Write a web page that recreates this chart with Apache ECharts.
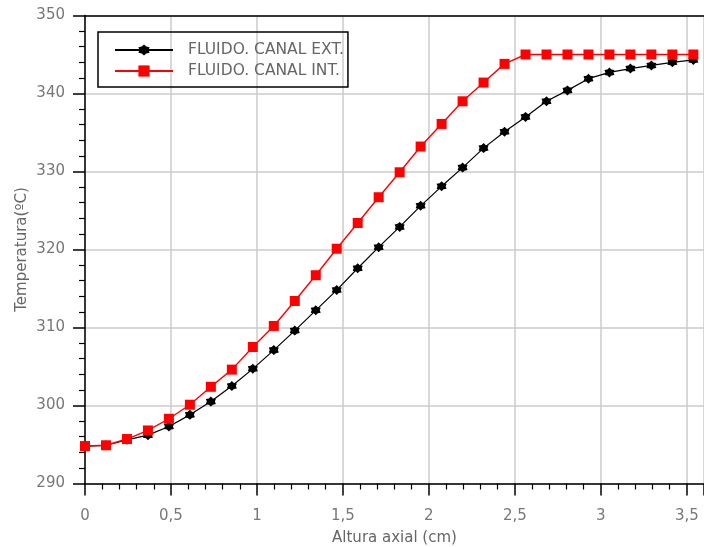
<!DOCTYPE html>
<html>
<head>
<meta charset="utf-8">
<script src="https://cdn.jsdelivr.net/npm/echarts@6/dist/echarts.min.js"></script>
<style>
  html, body { margin: 0; padding: 0; background: #fff; }
  #chart { width: 704px; height: 547px; }
</style>
</head>
<body>
<div id="chart"></div>
<script>
// Axial positions (cm)
const alturaAxial = [0, 0.122, 0.244, 0.366, 0.488, 0.610, 0.732, 0.854, 0.976, 1.098,
  1.220, 1.342, 1.464, 1.586, 1.708, 1.830, 1.952, 2.074, 2.196, 2.318,
  2.440, 2.562, 2.684, 2.806, 2.928, 3.050, 3.172, 3.294, 3.416, 3.538];

// Outer channel fluid temperature (ºC)
const canalExt = [294.8, 294.9, 295.6, 296.2, 297.3, 298.8, 300.5, 302.5, 304.7, 307.1,
  309.6, 312.2, 314.8, 317.6, 320.3, 322.9, 325.6, 328.1, 330.5, 333.0,
  335.1, 337.0, 339.0, 340.4, 341.9, 342.7, 343.2, 343.6, 344.0, 344.3];

// Inner channel fluid temperature (ºC)
const canalInt = [294.8, 294.9, 295.7, 296.8, 298.3, 300.1, 302.4, 304.6, 307.5, 310.2,
  313.4, 316.7, 320.1, 323.4, 326.7, 329.9, 333.2, 336.1, 339.0, 341.4,
  343.8, 345.0, 345.0, 345.0, 345.0, 345.0, 345.0, 345.0, 345.0, 345.0];

const seriesNames = ['FLUIDO. CANAL EXT.', 'FLUIDO. CANAL INT.'];

const FONT = 'DejaVu Sans';
const starPath = 'path://M10 0 L13.5 3.94 L18.66 5 L17 10 L18.66 15 L13.5 16.06 L10 20 L6.5 16.06 L1.34 15 L3 10 L1.34 5 L6.5 3.94 Z';

const pairs = (xs, ys) => xs.map((x, i) => [x, ys[i]]);
const comma = v => String(v).replace('.', ',');

const chart = echarts.init(document.getElementById('chart'), null, { renderer: 'canvas' });

chart.setOption({
  animation: false,
  backgroundColor: '#ffffff',
  grid: { left: 85, right: 0, top: 15.5, bottom: 63.5, containLabel: false, outerBoundsMode: 'none' },
  legend: {
    left: 98, top: 32,
    orient: 'vertical',
    padding: [10, 4, 8, 16],
    borderColor: '#000', borderWidth: 1.5,
    itemWidth: 58, itemHeight: 14, itemGap: 5,
    textStyle: { fontFamily: FONT, fontSize: 15.5, color: '#666', padding: [0, 0, 0, 10] },
    data: seriesNames
  },
  xAxis: [{
    type: 'value', min: 0, max: 3.6, interval: 0.5,
    name: 'Altura axial (cm)', nameLocation: 'middle', nameGap: 47, nameMoveOverlap: false,
    nameTextStyle: { fontFamily: FONT, fontSize: 15, color: '#666' },
    axisLine: { show: true, onZero: false, lineStyle: { color: '#000', width: 1.5 } },
    axisTick: { show: true, length: 12, lineStyle: { color: '#000', width: 1.5 } },
    minorTick: { show: true, splitNumber: 5, length: 6, lineStyle: { color: '#000', width: 1.2 } },
    axisLabel: { margin: 25, fontFamily: FONT, fontSize: 15, color: '#777', showMaxLabel: false, formatter: comma },
    splitLine: { show: true, lineStyle: { color: '#cbcbcb', width: 1.5 } }
  }, {
    type: 'value', min: 0, max: 3.6, position: 'top',
    axisLine: { show: true, onZero: false, lineStyle: { color: '#000', width: 1.5 } },
    axisTick: { show: false }, axisLabel: { show: false }, splitLine: { show: false }
  }],
  yAxis: {
    type: 'value', min: 290, max: 350, interval: 10,
    name: 'Temperatura(ºC)', nameLocation: 'middle', nameGap: 55, nameRotate: 90, nameMoveOverlap: false,
    nameTextStyle: { fontFamily: FONT, fontSize: 15, color: '#666' },
    axisLine: { show: true, onZero: false, lineStyle: { color: '#000', width: 1.5 } },
    axisTick: { show: true, length: 12, lineStyle: { color: '#000', width: 1.5 } },
    minorTick: { show: true, splitNumber: 5, length: 6, lineStyle: { color: '#000', width: 1.2 } },
    axisLabel: { margin: 20, fontFamily: FONT, fontSize: 15, color: '#777' },
    splitLine: { show: true, lineStyle: { color: '#cbcbcb', width: 1.5 } }
  },
  series: [{
    name: seriesNames[0], type: 'line', xAxisIndex: 0,
    data: pairs(alturaAxial, canalExt),
    symbol: starPath, symbolSize: 10,
    itemStyle: { color: '#000' },
    lineStyle: { color: '#000', width: 1.2 }
  }, {
    name: seriesNames[1], type: 'line', xAxisIndex: 0,
    data: pairs(alturaAxial, canalInt),
    symbol: 'rect', symbolSize: 10,
    itemStyle: { color: '#ff0000' },
    lineStyle: { color: '#ff0000', width: 1.4 }
  }]
});
</script>
</body>
</html>
